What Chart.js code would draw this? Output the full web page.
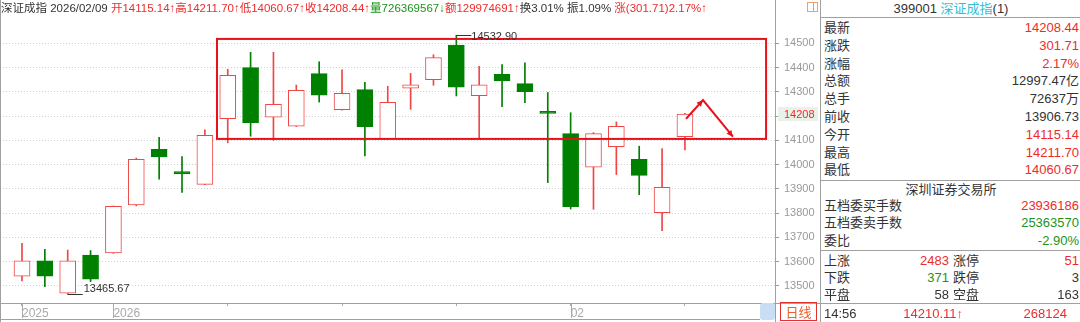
<!DOCTYPE html>
<html>
<head>
<meta charset="utf-8">
<script src="https://cdn.jsdelivr.net/npm/chart.js@4.4.1/dist/chart.umd.min.js"></script>
<style>
  html,body{margin:0;padding:0;background:#fff;}
  body{width:1080px;height:322px;overflow:hidden;position:relative;
       font-family:"Liberation Sans","Noto Sans CJK SC",sans-serif;color:#333;}
  #c{position:absolute;left:0;top:0;}
  #hdr{position:absolute;left:1px;top:1px;font-size:11.5px;line-height:14px;white-space:nowrap;}
  .r{color:#ee2b2b}.g{color:#1c931c}.k{color:#333}.cy{color:#35bfd2}
  #icon{position:absolute;left:807px;top:2px;width:9px;height:8px;border:1px solid #f0a070;}
  #icon:after{content:"";position:absolute;left:5px;top:0;width:1px;height:8px;background:#f0a070;}
  #side{position:absolute;left:820px;top:0;width:260px;height:322px;border-left:1px solid #a0a0a0;font-size:13px;}
  #side .hd{position:absolute;left:0;right:0;top:0;height:17px;line-height:18px;text-align:center;border-bottom:1px solid #a0a0a0;}
  #side .row{position:absolute;left:3px;right:2px;height:18px;line-height:18px;white-space:nowrap;}
  #side .v{position:absolute;right:0;top:0;}
  #side .sep{position:absolute;left:0;right:0;height:0;border-top:1px solid #a0a0a0;}
  #scroll{position:absolute;left:760px;top:303px;width:15px;height:17px;background:#c9ddf4;border-radius:3px;}
  #day{position:absolute;left:780px;top:302px;width:35px;height:17px;border:1px solid #e03030;
       color:#e8602c;font-size:13px;line-height:17px;text-align:center;font-family:"Noto Sans CJK SC",sans-serif;}
</style>
</head>
<body>
<canvas id="c" width="820" height="322"></canvas>
<div id="hdr"><span class="k">深证成指 2026/02/09 </span><span class="r">开14115.14↑高14211.70↑低14060.67↑收14208.44↑</span><span class="g">量726369567↓</span><span class="r">额129974691↑</span><span class="k">换3.01% 振1.09% </span><span class="r">涨(301.71)2.17%↑</span></div>
<div id="icon"></div>
<div id="scroll"></div>
<div id="day">日线</div>
<div id="side">
  <div class="hd">399001 <span class="cy">深证成指</span>(1)</div>
  <div class="row" style="top:19px">最新<span class="v r">14208.44</span></div>
  <div class="row" style="top:37px">涨跌<span class="v r">301.71</span></div>
  <div class="row" style="top:55px">涨幅<span class="v r">2.17%</span></div>
  <div class="row" style="top:72px">总额<span class="v">12997.47亿</span></div>
  <div class="row" style="top:90px">总手<span class="v">72637万</span></div>
  <div class="row" style="top:108px">前收<span class="v">13906.73</span></div>
  <div class="row" style="top:126px">今开<span class="v r">14115.14</span></div>
  <div class="row" style="top:144px">最高<span class="v r">14211.70</span></div>
  <div class="row" style="top:161px">最低<span class="v r">14060.67</span></div>
  <div class="sep" style="top:180px"></div>
  <div class="row" style="top:181px;text-align:center;left:0;right:0">深圳证券交易所</div>
  <div class="row" style="top:197px">五档委买手数<span class="v r">23936186</span></div>
  <div class="row" style="top:214px">五档委卖手数<span class="v g">25363570</span></div>
  <div class="row" style="top:232px">委比<span class="v g">-2.90%</span></div>
  <div class="sep" style="top:250px"></div>
  <div class="row" style="top:252px">上涨<span class="v r" style="right:130px">2483</span><span class="v" style="right:100px">涨停</span><span class="v r">51</span></div>
  <div class="row" style="top:269px">下跌<span class="v g" style="right:130px">371</span><span class="v" style="right:100px">跌停</span><span class="v">3</span></div>
  <div class="row" style="top:286px">平盘<span class="v" style="right:130px">58</span><span class="v" style="right:100px">空盘</span><span class="v">163</span></div>
  <div class="sep" style="top:303px"></div>
  <div class="row" style="top:305px">14:56<span class="v r" style="right:116px">14210.11↑</span><span class="v r" style="right:12px">268124</span></div>
</div>
<script>
/* ---------- данные: дневные свечи ---------- */
const opens  = [13540,13604,13470,13627,13636,13834,14063,13971,13919,14189,
                14400,14196,14159,14375,14226,14309,14106,14315,14350,14493,
                14284,14372,14334,14214,14128,13990,14074,14022,13802,14115.14];
const highs  = [13676,13651,13648,13646,13830,14027,14113,14033,14143,14393,
                14463,14463,14328,14424,14391,14339,14323,14376,14453,14532.90,
                14405,14412,14419,14297,14214,14132,14176,14076,14066,14211.70];
const lows   = [13521,13497,13465.67,13518,13634,13830,13940,13886,13917,14090,
                14117,14100,14157,14258,14224,14036,14104,14228,14327,14283,
                14106,14239,14255,13926,13817,13816,13959,13876,13728,14060.67];
const closes = [13604,13540,13604,13528,13828,14022,14032,13962,14121,14368,
                14173,14249,14306,14286,14294,14156,14257,14329,14441,14319,
                14329,14345,14301,14211,13827,14128,14158,13956,13907,14208.44];

const xTickIdx  = [0,4,9,14,19,24,29];
const xTickText = ['2025','2026','','','','02',''];
const yTicks    = [13500,13600,13700,13800,13900,14000,14100,14200,14300,14400,14500];

// рамка и стрелка, нарисованные поверх графика (в координатах данных)
const boxX = [8.53, 32.55], boxY = [14106, 14518];
const arrowX = [29.05, 29.79, 31.1], arrowY = [14189, 14266, 14115];

/* ---------- цвета ---------- */
const RED = '#f04646', GREEN = '#008000';
const isUp = closes.map((c,i)=>c>=opens[i]);
const colorOf = isUp.map(u=>u?RED:GREEN);

const idx = closes.map((_,i)=>i);

/* ---------- плагин: подписи и разметка ---------- */
const extras = {
  id:'extras',
  afterDatasetsDraw(chart){
    const {ctx, chartArea:a, scales:{x,y}} = chart;
    ctx.save();
    // рамка
    ctx.strokeStyle = '#e8101a'; ctx.lineWidth = 2;
    ctx.strokeRect(x.getPixelForValue(boxX[0]), y.getPixelForValue(boxY[1]),
      x.getPixelForValue(boxX[1])-x.getPixelForValue(boxX[0]),
      y.getPixelForValue(boxY[0])-y.getPixelForValue(boxY[1]));
    // стрелки
    const pts = arrowX.map((v,i)=>[x.getPixelForValue(v), y.getPixelForValue(arrowY[i])]);
    ctx.beginPath(); ctx.moveTo(pts[0][0],pts[0][1]);
    pts.slice(1).forEach(p=>ctx.lineTo(p[0],p[1]));
    ctx.stroke();
    [[pts[0],pts[1]],[pts[1],pts[2]]].forEach(([p,q])=>{
      const ang = Math.atan2(q[1]-p[1], q[0]-p[0]);
      ctx.beginPath();
      ctx.moveTo(q[0],q[1]);
      ctx.lineTo(q[0]-7*Math.cos(ang-0.45), q[1]-7*Math.sin(ang-0.45));
      ctx.lineTo(q[0]-7*Math.cos(ang+0.45), q[1]-7*Math.sin(ang+0.45));
      ctx.closePath(); ctx.fillStyle = '#e8101a'; ctx.fill();
    });
    // макс / мин
    ctx.font = '11px "Liberation Sans", sans-serif';
    ctx.fillStyle = '#333'; ctx.strokeStyle = '#333'; ctx.lineWidth = 1;
    ctx.textBaseline = 'middle'; ctx.textAlign = 'left';
    const hi = highs.indexOf(Math.max(...highs)), lo = lows.indexOf(Math.min(...lows));
    let px = x.getPixelForValue(hi), py = Math.round(y.getPixelForValue(highs[hi]))+0.5;
    ctx.beginPath(); ctx.moveTo(px,py); ctx.lineTo(px+15,py); ctx.stroke();
    ctx.fillText(highs[hi].toFixed(2), px+15, py+1);
    px = x.getPixelForValue(lo); py = Math.round(y.getPixelForValue(lows[lo]))+0.5;
    ctx.beginPath(); ctx.moveTo(px,py); ctx.lineTo(px+15,py); ctx.stroke();
    ctx.fillText(lows[lo].toFixed(2), px+16, py-6);
    // длинные засечки под подписанными датами
    ctx.strokeStyle = '#aaa';
    xTickIdx.forEach((v,i)=>{
      if(!xTickText[i]) return;
      const tx = Math.round(x.getPixelForValue(v))+0.5;
      ctx.beginPath(); ctx.moveTo(tx,a.bottom); ctx.lineTo(tx,a.bottom+15); ctx.stroke();
    });
    // линии рамки
    ctx.strokeStyle = '#a0a0a0';
    ctx.beginPath();
    ctx.moveTo(0.5,0); ctx.lineTo(0.5,322);
    ctx.moveTo(Math.round(a.right)+0.5,0); ctx.lineTo(Math.round(a.right)+0.5,322);
    ctx.moveTo(0,Math.round(a.bottom)+0.5); ctx.lineTo(820,Math.round(a.bottom)+0.5);
    ctx.moveTo(0,319.5); ctx.lineTo(760,319.5);
    ctx.stroke();
    // текущая цена на оси
    const last = closes[closes.length-1];
    const ly = y.getPixelForValue(last);
    ctx.fillStyle = '#e9f2e9';
    ctx.fillRect(a.right+3, ly-7, 40, 14);
    ctx.fillStyle = '#ee2b2b';
    ctx.fillText(Math.floor(last).toString(), a.right+9, ly+1);
    ctx.restore();
  }
};

const noPad = s => { s.paddingTop = 0; s.paddingBottom = 0; s.paddingLeft = 0; s.paddingRight = 0; };

new Chart(document.getElementById('c'),{
  type:'bar',
  data:{
    datasets:[
      { // тела свечей
        data: idx.map(i=>({x:i, y:[opens[i], closes[i]]})),
        backgroundColor: isUp.map(u=>u?'#ffffff':GREEN),
        borderColor: colorOf,
        borderWidth:1,
        borderSkipped:false,
        barThickness:16,
        minBarLength:2,
        grouped:false,
        order:0
      },
      { // тени
        data: idx.map(i=>({x:i, y:[lows[i], highs[i]]})),
        backgroundColor: colorOf,
        borderWidth:0,
        barThickness:1,
        grouped:false,
        order:1
      }
    ]
  },
  options:{
    responsive:false,
    animation:false,
    layout:{padding:{left:0,right:0,top:0,bottom:0}},
    plugins:{legend:{display:false},tooltip:{enabled:false}},
    scales:{
      x:{
        type:'linear', min:-0.962, max:32.94, offset:false,
        afterBuildTicks: s => { s.ticks = xTickIdx.map(v=>({value:v})); },
        afterFit: s => { s.height = 19; noPad(s); },
        grid:{drawOnChartArea:false, offset:false, tickLength:3, tickColor:'#aaa'},
        border:{color:'#a0a0a0'},
        ticks:{align:'start', padding:0, maxRotation:0, autoSkip:false, color:'#aaa',
               font:{size:12, family:'"Liberation Sans", sans-serif'},
               callback:(v,i)=>xTickText[i]}
      },
      y:{
        position:'right', min:13429.9, max:14678.4,
        afterBuildTicks: s => { s.ticks = yTicks.map(v=>({value:v})); },
        afterFit: s => { s.width = 45; noPad(s); },
        grid:{color:'#cfcfcf', tickLength:4, tickColor:'#999'},
        border:{color:'#a0a0a0', dash:[1,2]},
        ticks:{padding:5, color:'#999', font:{size:11, family:'"Liberation Sans", sans-serif'},
               callback:v=>v}
      }
    }
  },
  plugins:[extras]
});
</script>
</body>
</html>
